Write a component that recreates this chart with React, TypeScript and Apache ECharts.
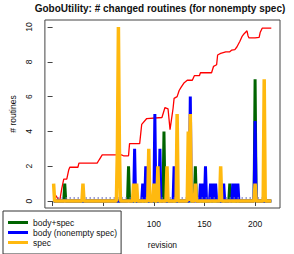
import React, { useEffect, useRef } from "react";
import * as echarts from "echarts";

const titleText = "GoboUtility: # changed routines (for nonempty spec)";
const xName = "revision";
const yName = "# routines";
const xTicks = [0, 50, 100, 150, 200];
const xTickLabels = [100, 150, 200]; // 0 and 50 sit under the legend
const yTicks = [0, 2, 4, 6, 8, 10];
const firstRevision = 1;
const lastRevision = 216;

// [revision, count]; every other revision is 0
const greenSpikes: [number, number][] = [
  [12, 1], [75, 2], [110, 4], [141, 2], [175, 1], [200, 7],
];
const blueSpikes: [number, number][] = [
  [81, 3], [89, 1], [92, 2], [101, 5], [106, 3], [120, 2], [136, 6],
  [146, 1], [149, 1], [151, 2], [156, 1], [159, 1], [161, 1], [169, 1],
  [178, 1], [180, 1], [183, 1], [200, 4.6],
];
const yellowSpikes: [number, number][] = [
  [1, 1], [30, 1], [64, 3], [65, 10], [66, 3], [80, 1], [83, 1], [95, 3],
  [100, 1], [104, 2], [113, 2], [123, 5], [134, 4], [136, 5], [141, 1],
  [166, 2], [200, 1], [209, 7],
];
// red cumulative line vertices [revision, value]
const redLine: [number, number][] = [
  [1, 0.25], [3, 0.33], [5, 0.15], [7, 0], [9, 0.7], [11, 1.26], [14, 1.26],
  [16, 1.8], [17, 1.94], [25, 1.94], [26, 2.18], [44, 2.18], [46, 2.37],
  [49, 2.65], [68, 2.65], [70, 2.6], [75, 2.6], [76, 3.3], [86, 3.3],
  [88, 4.4], [93, 4.74], [108, 4.8], [111, 5.37], [114, 5.3], [116, 4.1],
  [119, 5.33], [120, 5.9], [123, 6.0], [125, 6.35], [127, 6.54], [130, 6.8],
  [133, 6.94], [138, 6.94], [140, 7.2], [145, 7.2], [146, 7.37], [157, 7.37],
  [159, 7.74], [162, 7.83], [163, 8.39], [166, 8.48], [171, 8.57], [175, 8.57],
  [177, 8.67], [180, 8.7], [182, 8.85], [185, 9.18], [187, 9.44], [189, 9.6],
  [192, 9.78], [193, 9.5], [194, 9.37], [200, 9.37], [204, 9.4], [205, 9.68],
  [207, 9.93], [216, 9.93],
];
const baselineDots = { level: 0.2, from: 5, to: 214 };

function dense(spikes: [number, number][]) {
  const m = new Map(spikes);
  const out: [number, number][] = [];
  for (let r = firstRevision; r <= lastRevision; r++) out.push([r, m.get(r) ?? 0]);
  return out;
}

const FONT = "Liberation Sans";

export default function App() {
  const ref = useRef<HTMLDivElement>(null);
  useEffect(() => {
    if (!ref.current) return;
    const chart = echarts.init(ref.current, null, { renderer: "svg" });
    chart.setOption({
      animation: false,
      backgroundColor: "#fff",
      textStyle: { fontFamily: FONT },
      title: {
        text: titleText,
        left: 160,
        textAlign: "center",
        top: 3,
        padding: 0,
        textStyle: { fontFamily: FONT, fontSize: 10, fontWeight: "bold", color: "#111" },
      },
      grid: {
        left: 40, top: 20, width: 240, height: 192,
        show: true, borderColor: "#444", borderWidth: 1, backgroundColor: "transparent",
      },
      legend: {
        orient: "vertical",
        left: 3,
        top: 211,
        padding: [7, 4, 7, 5],
        itemGap: 1,
        itemWidth: 20,
        itemHeight: 10,
        icon: "path://M0,3.5 L20,3.5 L20,6.5 L0,6.5 Z",
        backgroundColor: "#fff",
        borderColor: "#333",
        borderWidth: 1,
        borderRadius: 0,
        z: 20,
        data: ["body+spec", "body (nonempty spec)", "spec"],
        textStyle: { fontFamily: FONT, fontSize: 8.5, color: "#111" },
      },
      xAxis: {
        type: "value",
        min: -7.6,
        max: 224.6,
        name: xName,
        nameLocation: "middle",
        nameGap: 32,
        nameTextStyle: { fontFamily: FONT, fontSize: 8.5, color: "#111" },
        axisLine: { show: false },
        splitLine: { show: false },
        axisTick: { show: true, length: 5, lineStyle: { color: "#444" }, customValues: xTicks },
        axisLabel: { margin: 11, fontSize: 8.5, color: "#111", fontFamily: FONT, customValues: xTickLabels },
      },
      yAxis: {
        type: "value",
        min: -0.4,
        max: 10.4,
        name: yName,
        nameLocation: "middle",
        nameGap: 24,
        nameTextStyle: { fontFamily: FONT, fontSize: 8.5, color: "#111" },
        axisLine: { show: false },
        splitLine: { show: false },
        axisTick: { show: true, length: 5, lineStyle: { color: "#444" }, customValues: yTicks },
        axisLabel: { margin: 11, rotate: 90, fontSize: 8.5, color: "#111", fontFamily: FONT, customValues: yTicks },
      },
      series: [
        {
          name: "cumulative",
          type: "line",
          data: redLine,
          showSymbol: false,
          lineStyle: { color: "#ff0000", width: 1.3 },
          itemStyle: { color: "#ff0000" },
          z: 2,
          markLine: {
            silent: true,
            symbol: "none",
            label: { show: false },
            lineStyle: { type: [1, 3], color: "#7070c0", width: 2 },
            data: [[{ coord: [baselineDots.from, baselineDots.level] }, { coord: [baselineDots.to, baselineDots.level] }]],
          },
        },
        {
          name: "body+spec",
          type: "line",
          data: dense(greenSpikes),
          showSymbol: false,
          lineStyle: { color: "#006400", width: 3 },
          itemStyle: { color: "#006400" },
          z: 3,
        },
        {
          name: "body (nonempty spec)",
          type: "line",
          data: dense(blueSpikes),
          showSymbol: false,
          lineStyle: { color: "#0000ff", width: 3 },
          itemStyle: { color: "#0000ff" },
          z: 4,
        },
        {
          name: "spec",
          type: "line",
          data: dense(yellowSpikes),
          showSymbol: false,
          lineStyle: { color: "#ffb90f", width: 3.5 },
          itemStyle: { color: "#ffb90f" },
          z: 5,
        },
      ],
    });
    return () => chart.dispose();
  }, []);
  return (
    <div
      ref={ref}
      style={{ position: "fixed", left: 0, top: 0, width: 294, height: 254 }}
    />
  );
}
